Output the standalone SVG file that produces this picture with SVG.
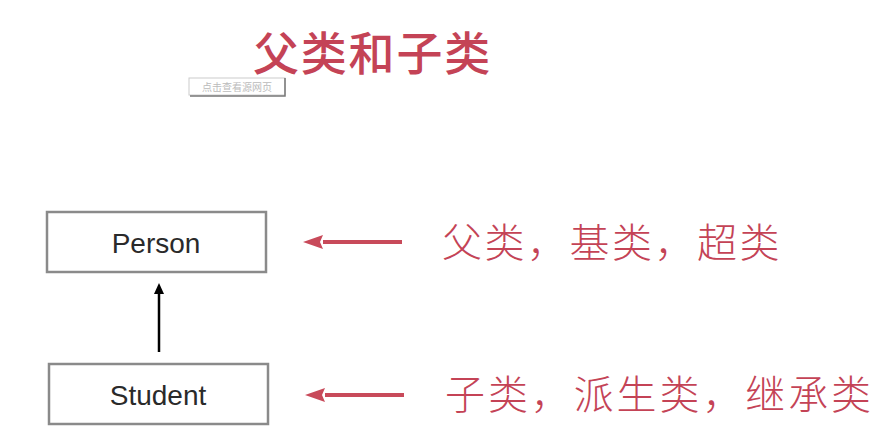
<svg xmlns="http://www.w3.org/2000/svg" width="878" height="437" viewBox="0 0 878 437">
<style>
.box{fill:#fff;stroke:#8a8a8a;stroke-width:2.5}
.lbl{font-family:"Liberation Sans",Arial,sans-serif;font-size:28px;fill:#2a2a2a;text-anchor:middle}
.cn{font-family:"Noto Sans CJK SC","Noto Sans",sans-serif;fill:#c44356}
.thin{font-weight:300}
.redarrow{stroke:#c84a5a;stroke-width:4}
.redhead{fill:#c84a5a}
</style>
<rect width="878" height="437" fill="#fff"/>
<text x="253" y="70" class="cn" font-size="46" font-weight="500" letter-spacing="1.8">父类和子类</text>
<g id="tooltip">
<rect x="189" y="78" width="96" height="17" fill="#fff" stroke="#ccc" stroke-width="1"/>
<path d="M285,78 V96 H190" fill="none" stroke="#777" stroke-width="1.5"/>
<text x="237" y="91" font-family="'Noto Sans CJK SC',sans-serif" font-size="10" fill="#bbb" text-anchor="middle">点击查看源网页</text>
</g>
<g id="person">
<rect x="47" y="212" width="219" height="60" class="box"/>
<text x="156" y="253" class="lbl">Person</text>
</g>
<g id="student">
<rect x="49" y="364" width="219" height="60" class="box"/>
<text x="158" y="405" class="lbl">Student</text>
</g>
<g id="connectors">
<line x1="159" y1="352" x2="159" y2="292" stroke="#000" stroke-width="2.5"/>
<path d="M159,283 L164,294 L154,294 z" fill="#000"/>
<line x1="402" y1="242" x2="323" y2="242" class="redarrow"/>
<path d="M303,242 L323,235 L320,242 L323,249 z" class="redhead"/>
<line x1="404" y1="395" x2="325" y2="395" class="redarrow"/>
<path d="M305,395 L325,388 L322,395 L325,402 z" class="redhead"/>
</g>
<g id="labels">
<text x="442" y="257" class="cn thin" font-size="40" letter-spacing="2.5">父类，基类，超类</text>
<text x="445" y="409" class="cn thin" font-size="40" letter-spacing="2.9">子类，派生类，继承类</text>
</g>
</svg>
